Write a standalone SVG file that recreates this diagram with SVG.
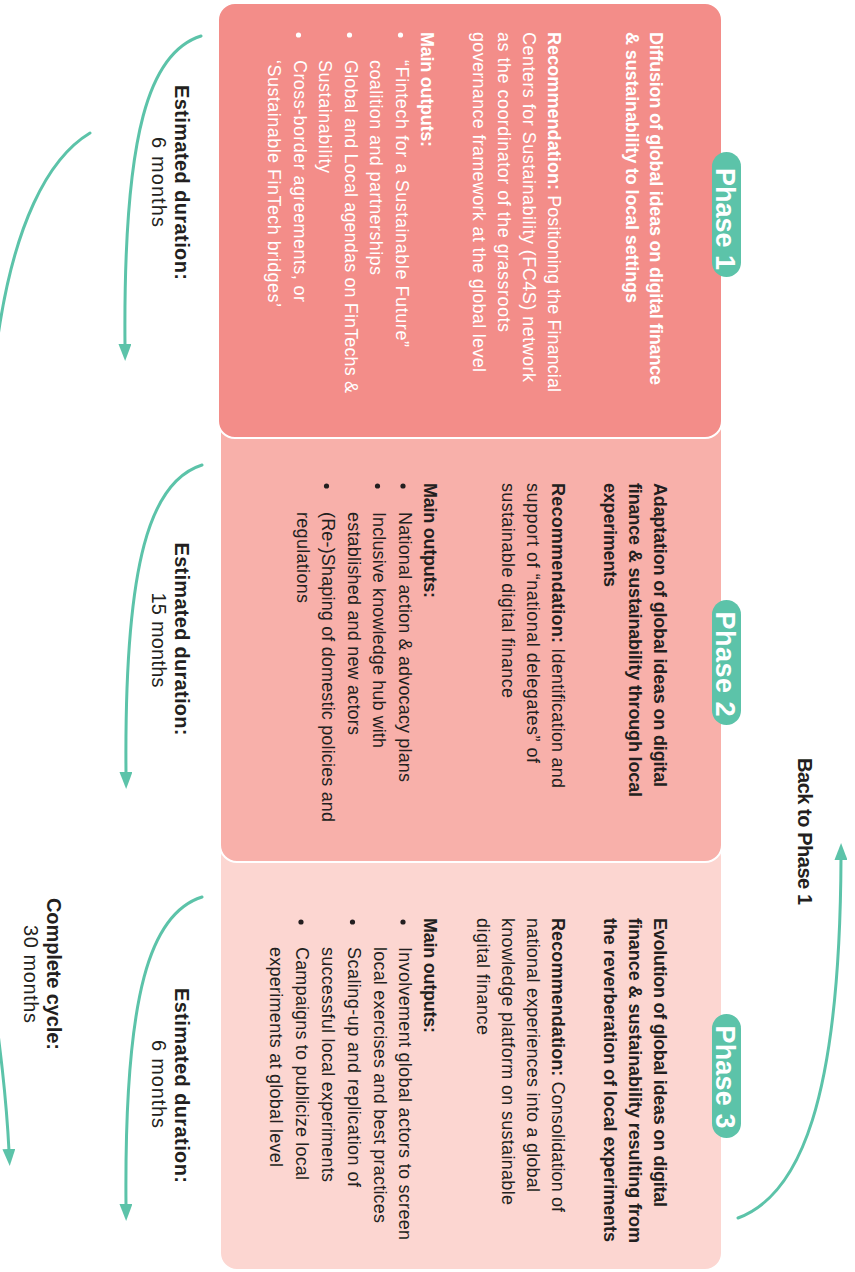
<svg xmlns="http://www.w3.org/2000/svg" width="855" height="1272" viewBox="0 0 855 1272">
<style>
.t{font-family:"Liberation Sans",Arial,sans-serif;font-size:18px}
.b{font-weight:bold}
.w{fill:#ffffff}
.d{fill:#231f20}
.lab{font-family:"Liberation Sans",Arial,sans-serif;font-size:20px;fill:#231f20}
.badge{fill:#5cc3a9}
.bt{font-family:"Liberation Sans",Arial,sans-serif;font-size:27px;font-weight:bold;fill:#ffffff;text-anchor:middle}
.conn{fill:none;stroke:#5cc3a9;stroke-width:3;stroke-linecap:round}
.box{stroke:#ffffff;stroke-width:2}
</style>
<defs>
<marker id="ah" viewBox="0 0 17 13" markerUnits="userSpaceOnUse" markerWidth="17" markerHeight="13" refX="2" refY="6.5" orient="auto">
<path d="M0,0 L17,6.5 L0,13 z" fill="#5cc3a9"/>
</marker>
</defs>
<rect width="855" height="1272" fill="#ffffff"/>

<g id="phase3">
<rect class="box" x="220" y="840" width="502" height="430" rx="17" fill="#fcd6d1"/>
<rect class="badge" x="712" y="1014" width="29" height="124" rx="14.5"/>
<g transform="translate(855 0) rotate(90)">
<text class="bt" x="1077" y="139" textLength="103">Phase 3</text>
<text class="t b d" x="918" y="201.5" textLength="289">Evolution of global ideas on digital</text>
<text class="t b d" x="918" y="226.5" textLength="325">finance &amp; sustainability resulting from</text>
<text class="t b d" x="918" y="251.5" textLength="324">the reverberation of local experiments</text>
<text class="t d" x="918" y="303" textLength="294"><tspan class="b">Recommendation:</tspan> Consolidation of</text>
<text class="t d" x="918" y="328" textLength="274">national experiences into a global</text>
<text class="t d" x="918" y="353" textLength="287">knowledge platform on sustainable</text>
<text class="t d" x="918" y="378.5" textLength="117">digital finance</text>
<text class="t b d" x="918" y="431.5" textLength="115">Main outputs:</text>
<circle class="d" cx="922" cy="452" r="2.6"/>
<circle class="d" cx="922" cy="502.5" r="2.6"/>
<circle class="d" cx="922" cy="554" r="2.6"/>
<text class="t d" x="947" y="456.5" textLength="293">Involvement global actors to screen</text>
<text class="t d" x="947" y="481.5" textLength="276">local exercises and best practices</text>
<text class="t d" x="947" y="507" textLength="240">Scaling-up and replication of</text>
<text class="t d" x="947" y="533" textLength="235">successful local experiments</text>
<text class="t d" x="947" y="559" textLength="233">Campaigns to publicize local</text>
<text class="t d" x="947" y="585" textLength="220">experiments at global level</text>
</g>
</g>

<g id="phase2">
<rect class="box" x="220" y="410" width="502" height="452" rx="17" fill="#f8b0aa"/>
<rect class="badge" x="712" y="600" width="29" height="125" rx="14.5"/>
<g transform="translate(855 0) rotate(90)">
<text class="bt" x="664" y="139" textLength="105">Phase 2</text>
<text class="t b d" x="483" y="201.5" textLength="304">Adaptation of global ideas on digital</text>
<text class="t b d" x="483" y="226.5" textLength="314">finance &amp; sustainability through local</text>
<text class="t b d" x="483" y="251.5" textLength="104">experiments</text>
<text class="t d" x="483" y="303" textLength="305"><tspan class="b">Recommendation:</tspan>  Identification and</text>
<text class="t d" x="483" y="328" textLength="280">support of “national delegates” of</text>
<text class="t d" x="483" y="353" textLength="215">sustainable digital finance</text>
<text class="t b d" x="483" y="431.5" textLength="115">Main outputs:</text>
<circle class="d" cx="486" cy="452" r="2.6"/>
<circle class="d" cx="486" cy="477.5" r="2.6"/>
<circle class="d" cx="486" cy="528.5" r="2.6"/>
<text class="t d" x="512" y="456.5" textLength="270">National action &amp; advocacy plans</text>
<text class="t d" x="512" y="482" textLength="236">Inclusive knowledge hub with</text>
<text class="t d" x="512" y="507.5" textLength="223">established and new actors</text>
<text class="t d" x="512" y="533" textLength="310">(Re-)Shaping of domestic policies and</text>
<text class="t d" x="512" y="558.5" textLength="91">regulations</text>
</g>
</g>

<g id="phase1">
<rect class="box" x="218" y="3" width="504" height="435" rx="17" fill="#f38d89"/>
<rect class="badge" x="712" y="152" width="29" height="125" rx="14.5"/>
<g transform="translate(855 0) rotate(90)">
<text class="bt" x="219" y="139" textLength="102">Phase 1</text>
<text class="t b w" x="32" y="205" textLength="353">Diffusion of global ideas on digital finance</text>
<text class="t b w" x="32" y="229" textLength="271">&amp; sustainability to local settings</text>
<text class="t w" x="32" y="307" textLength="360"><tspan class="b">Recommendation:</tspan> Positioning the Financial</text>
<text class="t w" x="32" y="332" textLength="350">Centers for Sustainability (FC4S) network</text>
<text class="t w" x="32" y="357" textLength="300">as the coordinator of the grassroots</text>
<text class="t w" x="32" y="382" textLength="340">governance framework at the global level</text>
<text class="t b w" x="32" y="434" textLength="115">Main outputs:</text>
<circle class="w" cx="35" cy="454.5" r="2.6"/>
<circle class="w" cx="35" cy="505.5" r="2.6"/>
<circle class="w" cx="35" cy="556.5" r="2.6"/>
<text class="t w" x="60" y="459" textLength="287">“Fintech for a Sustainable Future”</text>
<text class="t w" x="60" y="485" textLength="215">coalition and partnerships</text>
<text class="t w" x="60" y="510" textLength="333">Global  and Local agendas on FinTechs &amp;</text>
<text class="t w" x="60" y="536" textLength="113">Sustainability</text>
<text class="t w" x="60" y="561" textLength="242">Cross-border agreements, or</text>
<text class="t w" x="60" y="587" textLength="247">‘Sustainable FinTech bridges’</text>
</g>
</g>

<g id="connectors">
<path class="conn" d="M201,36 C150,52 123,130 125,346" marker-end="url(#ah)"/>
<path class="conn" d="M202,465 C151,481 124,559 126,774" marker-end="url(#ah)"/>
<path class="conn" d="M202,897 C151,913 124,991 126,1206" marker-end="url(#ah)"/>
<path class="conn" d="M90,133 C45,160 15,230 0,323 C-20,450 -30,600 -30,700 C-30,900 2,1010 9,1151" marker-end="url(#ah)"/>
<path class="conn" d="M738,1218 C800,1195 840,1100 841,858" marker-end="url(#ah)"/>
</g>

<g id="labels">
<g transform="translate(855 0) rotate(90)">
<text class="lab b" x="182.5" y="680" text-anchor="middle" textLength="195">Estimated duration:</text>
<text class="lab" x="182" y="703" text-anchor="middle" textLength="90">6 months</text>
<text class="lab b" x="639" y="680" text-anchor="middle" textLength="193">Estimated duration:</text>
<text class="lab" x="640" y="703" text-anchor="middle" textLength="95">15 months</text>
<text class="lab b" x="1085.5" y="680" text-anchor="middle" textLength="195">Estimated duration:</text>
<text class="lab" x="1084" y="703" text-anchor="middle" textLength="88">6 months</text>
<text class="lab b" x="974" y="808" text-anchor="middle" textLength="152">Complete cycle:</text>
<text class="lab" x="974" y="831" text-anchor="middle" textLength="98">30 months</text>
<text class="lab b" x="758" y="57" textLength="147">Back to Phase 1</text>
</g>
</g>
</svg>
